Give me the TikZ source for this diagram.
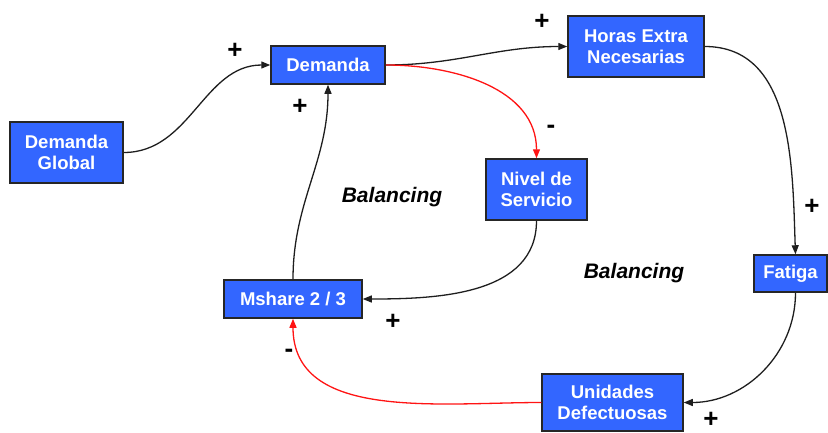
\documentclass[tikz,border=0pt]{standalone}
\usepackage{fontspec}
\setmainfont{Liberation Sans}
\usetikzlibrary{arrows.meta,calc}
\definecolor{boxblue}{RGB}{51,102,255}
\definecolor{linkgray}{RGB}{30,30,30}
\definecolor{linkred}{RGB}{255,20,20}
\tikzset{
  var/.style={draw=black!85, line width=1.5pt, fill=boxblue, text=white,
    font=\fontsize{18.5}{21.5}\selectfont\bfseries, align=center,
    inner sep=0pt, anchor=center},
  link/.style={draw=linkgray, line width=1.3pt,
    -{Triangle[length=9pt,width=7pt]}},
  neglink/.style={link, draw=linkred, -{Triangle[length=9pt,width=7pt,fill=linkred]}},
  sign/.style={font=\fontsize{26}{26}\selectfont\bfseries, inner sep=0pt},
  looplabel/.style={font=\fontsize{21}{21}\selectfont\bfseries\itshape, inner sep=0pt}
}
\begin{document}
\begin{tikzpicture}[x=1pt,y=-1pt]
  \useasboundingbox (0,0) rectangle (828,432);

  % variables
  \node[var, minimum width=113pt, minimum height=61pt] (dglobal) at (66.5,152.5) {Demanda\\Global};
  \node[var, minimum width=114pt, minimum height=38pt] (demanda) at (328,65) {Demanda};
  \node[var, minimum width=136pt, minimum height=61pt] (horas) at (636,46.5) {Horas Extra\\Necesarias};
  \node[var, minimum width=101pt, minimum height=61pt] (nivel) at (536.5,189.5) {Nivel de\\Servicio};
  \node[var, minimum width=138pt, minimum height=38pt] (mshare) at (293,299) {Mshare 2 / 3};
  \node[var, minimum width=73pt, minimum height=37pt] (fatiga) at (790.5,273.5) {Fatiga};
  \node[var, minimum width=141pt, minimum height=57pt] (unidades) at (612.5,402.5) {Unidades\\Defectuosas};

  % causal links
  \draw[link] (dglobal.east) to[out=0,in=180] (demanda.west);
  \draw[link] (demanda.east) to[out=0,in=180] (horas.west);
  \draw[neglink] (demanda.east) to[out=0,in=90] (nivel.north);
  \draw[link] (horas.east) to[out=0,in=92] ([xshift=5pt]fatiga.north);
  \draw[link] ([xshift=5pt]fatiga.south) to[out=-90,in=0] (unidades.east);
  \draw[neglink] (unidades.west) to[out=180,in=-90] (mshare.south);
  \draw[link] (nivel.south) to[out=-90,in=0] (mshare.east);
  \draw[link] (mshare.north) to[out=90,in=-90] (demanda.south);

  % polarities
  \node[sign] (p1) at (235,51) {+};
  \node[sign] (p2) at (300,107) {+};
  \node[sign] (p3) at (542,22) {+};
  \node[sign] (m1) at (551,129) {-};
  \node[sign] (p4) at (812,207) {+};
  \node[sign] (p5) at (393,322) {+};
  \node[sign] (m2) at (289,353) {-};
  \node[sign] (p6) at (711,420) {+};

  % loop labels
  \node[looplabel] (loopA) at (392,197) {Balancing};
  \node[looplabel] (loopB) at (634,273) {Balancing};
\end{tikzpicture}
\end{document}
